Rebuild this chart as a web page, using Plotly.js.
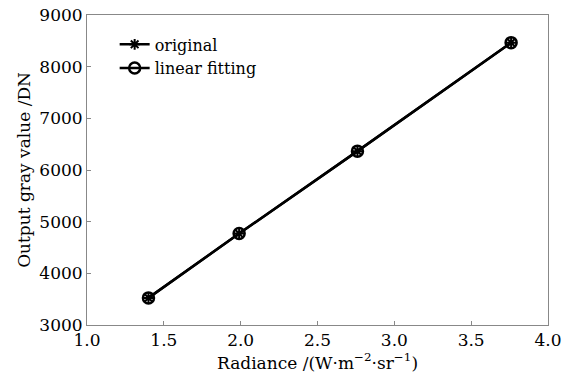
<!DOCTYPE html>
<html><head><meta charset="utf-8">
<script src="https://cdn.plot.ly/plotly-3.0.1.min.js"></script>
<style>body{margin:0;padding:0;background:#fff}#c{width:569px;height:374px}</style>
</head><body><div id="c"></div>
<script>
const radiance = [1.40, 1.99, 2.76, 3.76];
const original = [3525, 4770, 6365, 8465];
const fitted = [3525, 4770, 6365, 8465];
const xTicks = [1.0, 1.5, 2.0, 2.5, 3.0, 3.5, 4.0];
const yTicks = [3000, 4000, 5000, 6000, 7000, 8000, 9000];

const F = "DejaVu Serif, serif";
const traces = [
  {x: radiance, y: original, name: 'original', mode: 'lines+markers',
   line: {color: '#000', width: 2.5},
   marker: {symbol: 'asterisk-open', size: 9, color: '#000', line: {color: '#000', width: 2}}},
  {x: radiance, y: fitted, name: 'linear fitting', mode: 'lines+markers',
   line: {color: '#000', width: 2.5},
   marker: {symbol: 'circle-open', size: 11, color: '#000', line: {color: '#000', width: 2.5}}}
];
const axisCommon = {showline: true, linecolor: '#888', linewidth: 1, mirror: true,
  ticks: 'inside', ticklen: 4, tickcolor: '#888', showgrid: false, zeroline: false,
  tickfont: {family: F, size: 17, color: '#000'}};
const layout = {
  width: 569, height: 374,
  margin: {l: 87, r: 21, t: 15, b: 49},
  paper_bgcolor: '#fff', plot_bgcolor: '#fff',
  font: {family: F, color: '#000'},
  showlegend: true,
  legend: {x: 0.06, y: 0.96, xanchor: 'left', yanchor: 'top', bgcolor: 'rgba(0,0,0,0)',
    font: {family: F, size: 16, color: '#000'}, tracegroupgap: 0, itemwidth: 30},
  xaxis: Object.assign({}, axisCommon, {range: [1.0, 4.0], tickvals: xTicks,
    ticktext: xTicks.map(v => v.toFixed(1)),
    title: {text: 'Radiance /(W·m<sup>−2</sup>·sr<sup>−1</sup>)', font: {family: F, size: 17, color: '#000'}, standoff: 2}}),
  yaxis: Object.assign({}, axisCommon, {range: [3000, 9000], tickvals: yTicks,
    ticktext: yTicks.map(String),
    title: {text: 'Output gray value /DN', font: {family: F, size: 17, color: '#000'}, standoff: 4}})
};
Plotly.newPlot('c', traces, layout, {displayModeBar: false, staticPlot: true});
</script></body></html>
